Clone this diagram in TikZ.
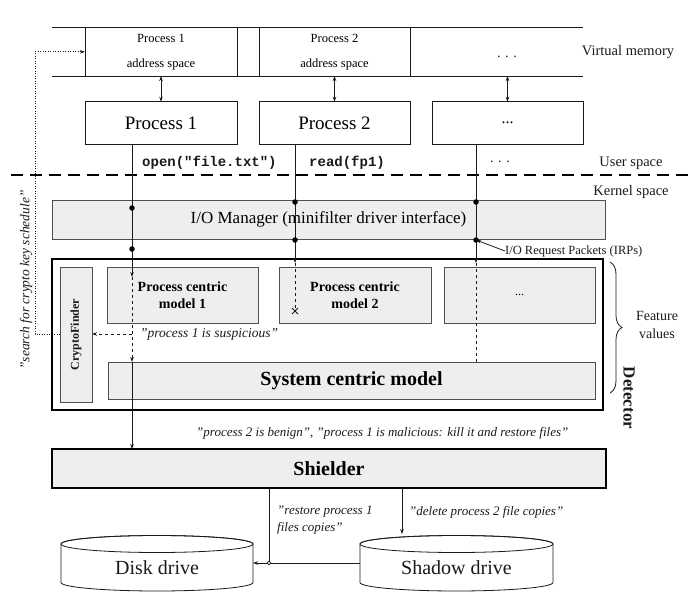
\documentclass[tikz,border=0pt]{standalone}
\usepackage{fontspec}
\setmainfont{Liberation Serif}[Ligatures=Common]
\setmonofont{Liberation Mono}[Ligatures=Common]
\usetikzlibrary{arrows.meta,decorations.pathreplacing,calc}
\newcommand\fsz[2]{\fontsize{#1}{#2}\selectfont}
\definecolor{boxgray}{HTML}{EEEEEE}
\definecolor{edgegray}{HTML}{505050}
\definecolor{inkc}{HTML}{1A1A1A}
\begin{document}
\begin{tikzpicture}[x=1pt,y=-1pt,
  wbox/.style={draw=inkc, fill=white, line width=0.8pt, inner sep=0pt, outer sep=0pt, anchor=north west},
  gbox/.style={draw=edgegray, fill=boxgray, line width=0.8pt, inner sep=0pt, outer sep=0pt, anchor=north west},
  tip/.style={-{Stealth[length=5pt,width=3.5pt]}},
  dtip/.style={{Stealth[length=5pt,width=3.5pt]}-{Stealth[length=5pt,width=3.5pt]}},
  ln/.style={line width=0.8pt, draw=inkc},
  jdot/.style={circle, fill=black, inner sep=0pt, minimum size=5.5pt},
  lbl/.style={inner sep=0pt, text=inkc}
]
\useasboundingbox (0,0) rectangle (694,597);

% virtual memory
\coordinate (vmtl) at (52,27.7);
\coordinate (vmtr) at (583,27.7);
\coordinate (vmbl) at (52,76);
\coordinate (vmbr) at (583,76);
\draw[ln] (vmtl) -- (vmtr);
\draw[ln] (vmbl) -- (vmbr);
\node[wbox, minimum width=152, minimum height=48.3, align=center, font=\fsz{12.5}{25}] (as1) at (85,27.7) {Process 1\\address space};
\node[wbox, minimum width=151, minimum height=48.3, align=center, font=\fsz{12.5}{25}] (as2) at (259,27.7) {Process 2\\address space};
\node[lbl, font=\fsz{14}{16}] (asd) at (507,57) {.\,\,.\,\,.};
\node[lbl, font=\fsz{14.5}{17}] (vmlbl) at (628,52) {Virtual memory};

% processes
\node[wbox, minimum width=152, minimum height=42.3, font=\fsz{19}{22}] (p1) at (85,101.7) {Process 1};
\node[wbox, minimum width=151, minimum height=42.3, font=\fsz{19}{22}] (p2) at (259,101.7) {Process 2};
\node[wbox, minimum width=151, minimum height=42.3, font=\fsz{16}{18}] (p3) at (432,101.7) {...};
\draw[ln, dtip] (as1.south) -- (p1.north);
\draw[ln, dtip] (as2.south) -- (p2.north);
\draw[ln, dtip] (p3.north |- vmbl) -- (p3.north);

\node[lbl, anchor=west, font=\ttfamily\bfseries\fsz{14}{16}] (openl) at (142,163) {open("file.txt")};
\node[lbl, anchor=west, font=\ttfamily\bfseries\fsz{14}{16}] (readl) at (309,163) {read(fp1)};
\node[lbl, font=\fsz{14}{16}] (dotsl) at (500,162) {.\,\,.\,\,.};
\node[lbl, font=\fsz{14.5}{17}] (uslbl) at (631,163) {User space};
\node[lbl, font=\fsz{14.5}{17}] (kslbl) at (631,192) {Kernel space};
\coordinate (dl) at (11,175);
\coordinate (dr) at (694,175);
\draw[line width=2.3pt, dash pattern=on 12pt off 7pt] (dl) -- (dr);

% I/O manager
\node[gbox, minimum width=553, minimum height=38.4, font=\fsz{17}{20}] (io) at (52,200.6) {I/O Manager (minifilter driver interface)};

% detector
\node[draw=black, line width=2pt, inner sep=0pt, outer sep=0pt, anchor=north west, minimum width=551, minimum height=151] (det) at (52,259) {};
\node[gbox, minimum width=32, minimum height=135] (cf) at (60,267) {};
\node[lbl, rotate=90, font=\bfseries\fsz{12}{14}] (cflbl) at (cf.center) {CryptoFinder};
\node[gbox, minimum width=151, minimum height=56, align=center, font=\bfseries\fsz{14}{17}] (m1) at (107,267) {Process centric\\model 1};
\node[gbox, minimum width=152, minimum height=56, align=center, font=\bfseries\fsz{14}{17}] (m2) at (279,267) {Process centric\\model 2};
\node[gbox, minimum width=151, minimum height=56, font=\fsz{12}{14}] (m3) at (444,267) {...};
\node[gbox, minimum width=487, minimum height=37, font=\bfseries\fsz{20}{23}] (sys) at (108,362) {System centric model};

% shielder
\node[gbox, draw=black, line width=2pt, minimum width=554, minimum height=39, font=\bfseries\fsz{20}{23}] (sh) at (52,449) {Shielder};

% process 1 path
\coordinate (d1a) at (132,208);
\coordinate (d1b) at (132,249);
\coordinate (a1) at (132,277);
\coordinate (s1) at (132,334);
\draw[ln] (p1.south -| d1a) -- (d1b);
\draw[ln, tip] (d1b) -- (a1);
\draw[ln, dashed, tip] (a1) -- (sys.north -| a1);
\draw[ln, tip] (sys.north -| a1) -- (sh.north -| a1);
\node[jdot] at (d1a) {};
\node[jdot] at (d1b) {};
\draw[ln, dashed, tip] (s1) -- (cf.east |- s1);
\node[lbl, anchor=west, font=\itshape\fsz{13.5}{16}] (susp) at (140,334) {"process 1 is suspicious"};

% crypto search
\draw[ln, dash pattern=on 0.9pt off 1.6pt, tip] (cf.west |- s1) -- ++(-25,0) |- (as1.west);
\node[lbl, rotate=90, font=\itshape\fsz{13.5}{16}] (srch) at (26,280) {"search for crypto key schedule"};

% process 2 path
\coordinate (d2a) at (295,202);
\coordinate (d2b) at (295,240);
\coordinate (a2) at (295,263);
\coordinate (x2) at (295,311);
\draw[ln] (p2.south -| d2a) -- (d2b);
\draw[ln, tip] (d2b) -- (a2);
\draw[ln, dashed] (a2) -- (x2);
\draw[ln] (x2) +(-3,-3) -- +(3,3) (x2) +(-3,3) -- +(3,-3);
\node[jdot] at (d2a) {};
\node[jdot] at (d2b) {};

% process 3 path
\coordinate (d3a) at (476,202);
\coordinate (d3b) at (476,240);
\coordinate (a3) at (476,263);
\draw[ln] (p3.south -| d3a) -- (d3b);
\draw[ln, tip] (d3b) -- (a3);
\draw[ln, dashed] (a3) -- (sys.north -| a3);
\node[jdot] at (d3a) {};
\node[jdot] at (d3b) {};
\node[lbl, anchor=west, font=\fsz{12.5}{15}] (irp) at (505,251) {I/O Request Packets (IRPs)};
\draw[ln, tip] (irp.west) -- (d3b);

% feature values
\coordinate (bt) at (610,262);
\coordinate (bb) at (610,393);
\draw[ln, decorate, decoration={brace, amplitude=12pt}] (bt) -- (bb);
\node[lbl, align=center, font=\fsz{14}{18}] (fv) at (657,325) {Feature\\values};
\node[lbl, rotate=-90, font=\bfseries\fsz{17}{20}] (detl) at (629,398) {Detector};

\node[lbl, anchor=west, font=\itshape\fsz{13}{16}] (verd) at (196,433) {"process 2 is benign", "process 1 is malicious: kill it and restore files"};

% drives
\node[inner sep=0pt, outer sep=0pt, minimum width=192, minimum height=56] (disk) at (157,563) {};
\node[inner sep=0pt, outer sep=0pt, minimum width=193, minimum height=56] (shadow) at (456.5,563) {};
\draw[ln, fill=white] (61,544) -- (61,582.5) arc[start angle=180, end angle=0, x radius=96, y radius=8.5] -- (253,544) arc[start angle=0, end angle=-180, x radius=96, y radius=8.5] -- cycle;
\draw[ln] (157,544) ellipse [x radius=96, y radius=8.5];
\draw[ln, fill=white] (360,544) -- (360,582.5) arc[start angle=180, end angle=0, x radius=96.5, y radius=8.5] -- (553,544) arc[start angle=0, end angle=-180, x radius=96.5, y radius=8.5] -- cycle;
\draw[ln] (456.5,544) ellipse [x radius=96.5, y radius=8.5];
\node[lbl, font=\fsz{20}{23}] (diskl) at (157,568) {Disk drive};
\node[lbl, font=\fsz{20}{23}] (shadl) at (456.5,568) {Shadow drive};

\coordinate (j) at (269,563);
\coordinate (shtop) at (402,534);
\draw[ln, tip] (shadow.west) -- (disk.east);
\draw[ln] (sh.south -| j) -- (j);
\draw[ln, fill=white] (j) circle[radius=1.9pt];
\draw[ln, tip] (sh.south -| shtop) -- (shtop);
\node[lbl, anchor=north west, align=left, font=\itshape\fsz{13}{17}] (rest) at (277,506) {"restore process 1\\files copies"};
\node[lbl, anchor=west, font=\itshape\fsz{13}{16}] (dele) at (409,512) {"delete process 2 file copies"};
\end{tikzpicture}
\end{document}
